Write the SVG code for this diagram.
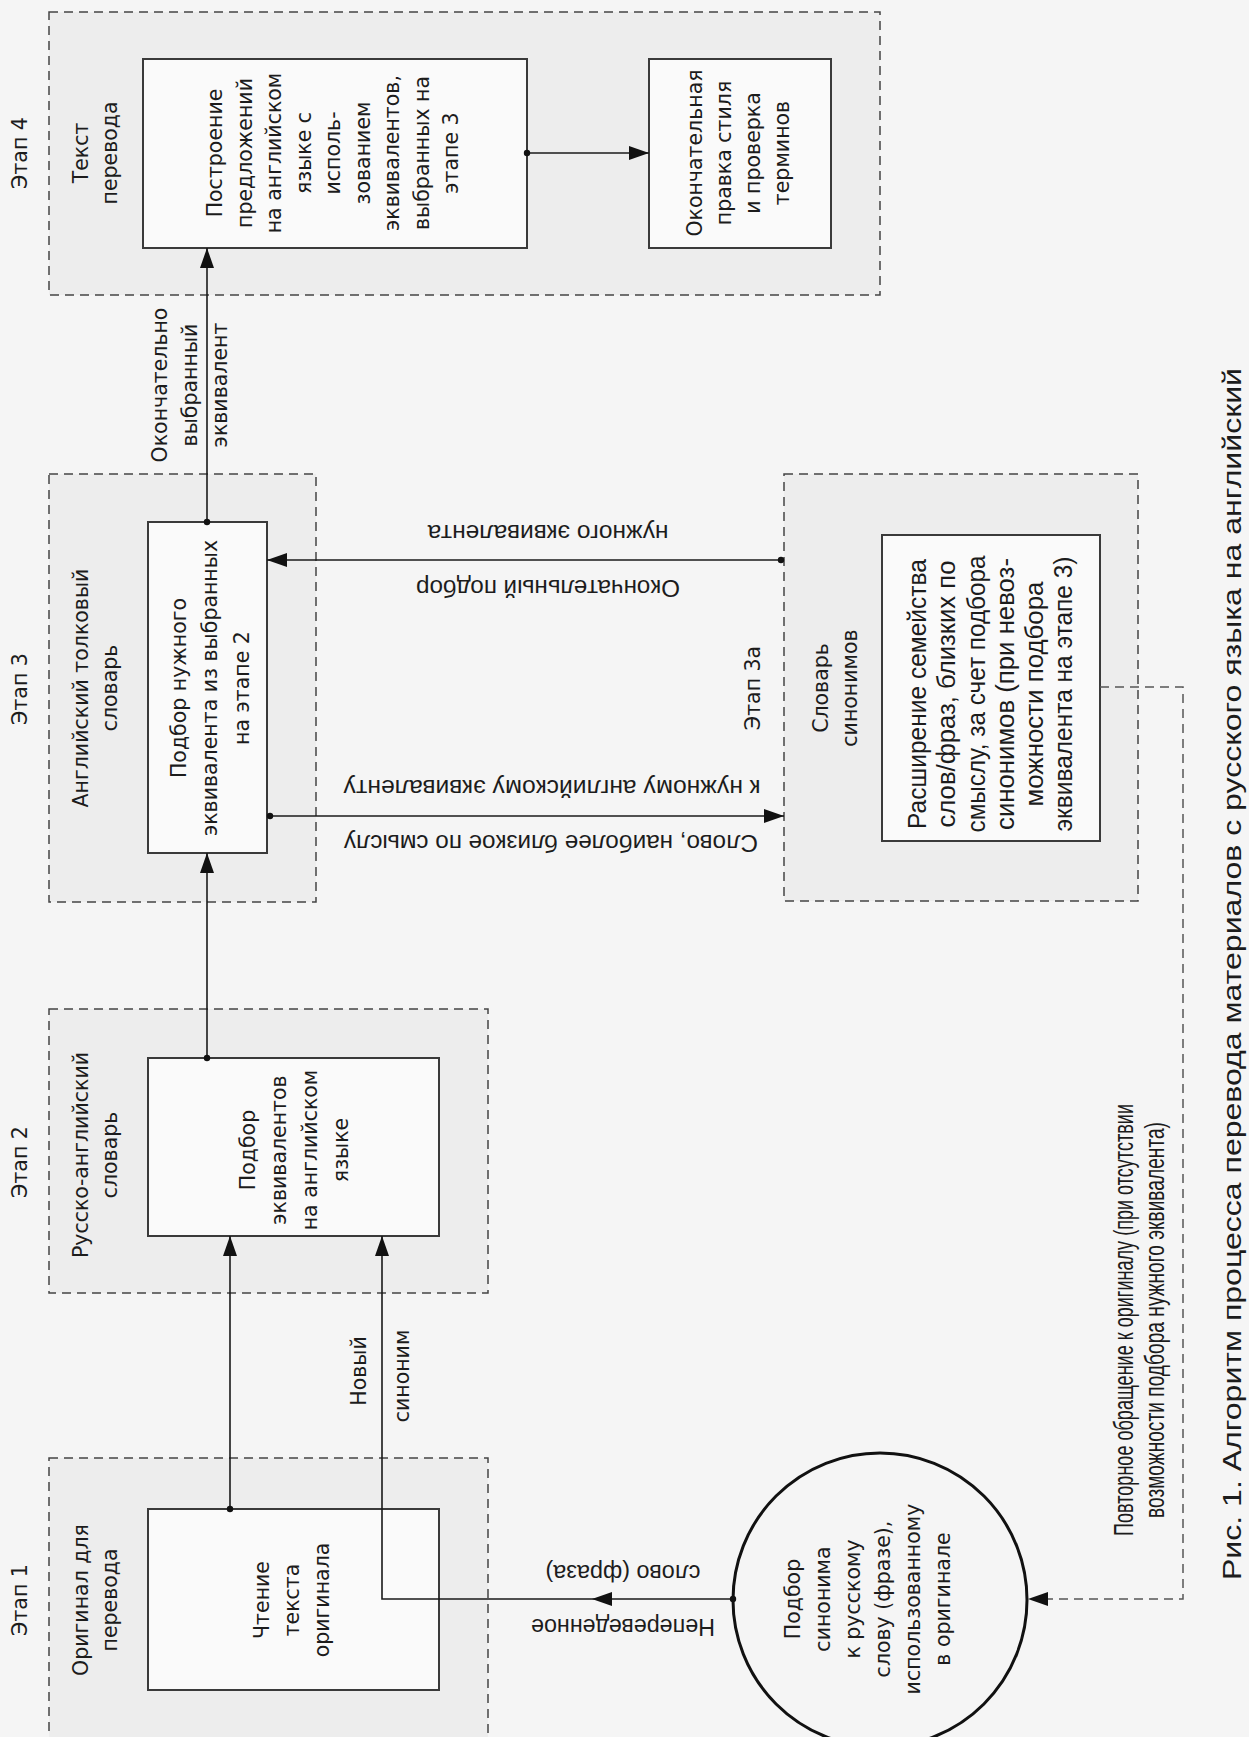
<svg xmlns="http://www.w3.org/2000/svg" width="1249" height="1737" viewBox="0 0 1249 1737">
<style>
text { dominant-baseline: central; text-anchor: middle; fill: #1c1c1c; }
.w { font-family: "DejaVu Sans", Verdana, sans-serif; font-size: 20.5px; }
.n { font-family: "Liberation Sans Narrow", "Liberation Sans", Arial, sans-serif; font-size: 24px; }
.p { font-family: "Liberation Sans Narrow", "Liberation Sans", Arial, sans-serif; font-size: 27px; }
.r { font-family: "Liberation Sans Narrow", "Liberation Sans", Arial, sans-serif; font-size: 25px; }
.cap { font-family: "Liberation Sans Narrow", "Liberation Sans", Arial, sans-serif; font-size: 25px; }
.stage { fill: #ededed; stroke: #444; stroke-width: 1.5; stroke-dasharray: 9 6; }
.box { fill: #fafafa; stroke: #3a3a3a; stroke-width: 2; }
.conn { fill: none; stroke: #1a1a1a; stroke-width: 1.6; }
.dash { fill: none; stroke: #555; stroke-width: 1.5; stroke-dasharray: 9 6; }
</style>
<defs>
<marker id="arr" markerUnits="userSpaceOnUse" markerWidth="20" markerHeight="14" refX="20" refY="7" orient="auto">
<path d="M0,0 L20,7 L0,14 z" fill="#111"/>
</marker>
<marker id="dot" markerUnits="userSpaceOnUse" markerWidth="8" markerHeight="8" refX="4" refY="4">
<circle cx="4" cy="4" r="3.2" fill="#111"/>
</marker>
</defs>
<rect x="0" y="0" width="1249" height="1737" fill="#f5f5f5"/>

<g id="stages">
<g id="stage4"><rect class="stage" x="49" y="12" width="831" height="283"/>
<g transform="translate(20,153) rotate(-90)"><text class="w">Этап 4</text></g>
<g transform="translate(95,153) rotate(-90)"><text class="w" y="-14.5">Текст</text><text class="w" y="14.5">перевода</text></g>
</g>
<g id="stage3"><rect class="stage" x="49" y="474" width="267" height="428"/>
<g transform="translate(20,689) rotate(-90)"><text class="w">Этап 3</text></g>
<g transform="translate(95,688) rotate(-90)"><text class="w" y="-14.5">Английский толковый</text><text class="w" y="14.5">словарь</text></g>
</g>
<g id="stage3a"><rect class="stage" x="784" y="474" width="354" height="427"/>
<g transform="translate(753,688) rotate(-90)"><text class="w">Этап 3а</text></g>
<g transform="translate(835,688) rotate(-90)"><text class="w" y="-14.5">Словарь</text><text class="w" y="14.5">синонимов</text></g>
</g>
<g id="stage2"><rect class="stage" x="49" y="1009" width="439" height="284"/>
<g transform="translate(20,1162) rotate(-90)"><text class="w">Этап 2</text></g>
<g transform="translate(95,1155) rotate(-90)"><text class="w" y="-14.5">Русско-английский</text><text class="w" y="14.5">словарь</text></g>
</g>
<g id="stage1"><rect class="stage" x="49" y="1458" width="439" height="320"/>
<g transform="translate(20,1600) rotate(-90)"><text class="w">Этап 1</text></g>
<g transform="translate(95,1600) rotate(-90)"><text class="w" y="-14.5">Оригинал для</text><text class="w" y="14.5">перевода</text></g>
</g>
</g>

<g id="nodeA">
<rect class="box" x="143" y="59" width="384" height="189"/>
<g transform="translate(333,153) rotate(-90)">
<text class="w" y="-118">Построение</text>
<text class="w" y="-88.5">предложений</text>
<text class="w" y="-59">на английском</text>
<text class="w" y="-29.5">языке с</text>
<text class="w" y="0">исполь-</text>
<text class="w" y="29.5">зованием</text>
<text class="w" y="59">эквивалентов,</text>
<text class="w" y="88.5">выбранных на</text>
<text class="w" y="118">этапе 3</text>
</g>
</g>
<g id="nodeB">
<rect class="box" x="649" y="59" width="182" height="189"/>
<g transform="translate(738,153) rotate(-90)">
<text class="w" y="-43.5">Окончательная</text>
<text class="w" y="-14.5">правка стиля</text>
<text class="w" y="14.5">и проверка</text>
<text class="w" y="43.5">терминов</text>
</g>
</g>
<g id="nodeA3">
<rect class="box" x="148" y="522" width="119" height="331"/>
<g transform="translate(210,688) rotate(-90)">
<text class="w" y="-31.5">Подбор нужного</text>
<text class="w" y="0">эквивалента из выбранных</text>
<text class="w" y="31.5">на этапе 2</text>
</g>
</g>
<g id="nodeSyn">
<rect class="box" x="882" y="535" width="218" height="306"/>
<g transform="translate(990,694) rotate(-90)">
<text class="r" y="-73" textLength="270" lengthAdjust="spacingAndGlyphs">Расширение семейства</text>
<text class="r" y="-44" textLength="267" lengthAdjust="spacingAndGlyphs">слов/фраз, близких по</text>
<text class="r" y="-14.5" textLength="277" lengthAdjust="spacingAndGlyphs">смыслу, за счет подбора</text>
<text class="r" y="14.5" textLength="272" lengthAdjust="spacingAndGlyphs">синонимов (при невоз-</text>
<text class="r" y="44" textLength="225" lengthAdjust="spacingAndGlyphs">можности подбора</text>
<text class="r" y="73" textLength="275" lengthAdjust="spacingAndGlyphs">эквивалента на этапе 3)</text>
</g>
</g>
<g id="nodeA2">
<rect class="box" x="148" y="1058" width="291" height="178"/>
<g transform="translate(294,1150) rotate(-90)">
<text class="w" y="-46.5">Подбор</text>
<text class="w" y="-15.5">эквивалентов</text>
<text class="w" y="15.5">на английском</text>
<text class="w" y="46.5">языке</text>
</g>
</g>
<g id="nodeA1">
<rect class="box" x="148" y="1509" width="291" height="181"/>
<g transform="translate(292,1600) rotate(-90)">
<text class="w" y="-30">Чтение</text>
<text class="w" y="0">текста</text>
<text class="w" y="30">оригинала</text>
</g>
</g>
<g id="nodeCircle">
<circle cx="880" cy="1600" r="147" fill="none" stroke="#111" stroke-width="3"/>
<g transform="translate(868,1599) rotate(-90)">
<text class="w" y="-75">Подбор</text>
<text class="w" y="-45">синонима</text>
<text class="w" y="-15">к русскому</text>
<text class="w" y="15">слову (фразе),</text>
<text class="w" y="45">использованному</text>
<text class="w" y="75">в оригинале</text>
</g>
</g>

<g id="connectors">
<line class="conn" x1="527" y1="153" x2="649" y2="153" marker-start="url(#dot)" marker-end="url(#arr)"/>
<line class="conn" x1="207" y1="522" x2="207" y2="248" marker-start="url(#dot)" marker-end="url(#arr)"/>
<line class="conn" x1="207" y1="1058" x2="207" y2="853" marker-start="url(#dot)" marker-end="url(#arr)"/>
<line class="conn" x1="230" y1="1509" x2="230" y2="1236" marker-start="url(#dot)" marker-end="url(#arr)"/>
<path class="conn" d="M733,1599 H382 V1236" marker-start="url(#dot)" marker-end="url(#arr)"/>
<path d="M592,1599 L612,1592 L612,1606 z" fill="#111"/>
<line class="conn" x1="270" y1="816" x2="784" y2="816" marker-start="url(#dot)" marker-end="url(#arr)"/>
<line class="conn" x1="781" y1="560" x2="267" y2="560" marker-start="url(#dot)" marker-end="url(#arr)"/>
<path class="dash" d="M1100,687 H1183 V1599 H1048"/>
<path d="M1028,1599 L1048,1592 L1048,1606 z" fill="#111"/>
<g transform="translate(190,385) rotate(-90)"><text class="w" y="-30">Окончательно</text><text class="w" y="0">выбранный</text><text class="w" y="30">эквивалент</text></g>
<g transform="translate(548,533) rotate(180)"><text class="n" textLength="241" lengthAdjust="spacingAndGlyphs">нужного эквивалента</text></g>
<g transform="translate(548,588) rotate(180)"><text class="n" textLength="264" lengthAdjust="spacingAndGlyphs">Окончательный подбор</text></g>
<g transform="translate(552,788) rotate(180)"><text class="n" textLength="417" lengthAdjust="spacingAndGlyphs">к нужному английскому эквиваленту</text></g>
<g transform="translate(551,843) rotate(180)"><text class="n" textLength="414" lengthAdjust="spacingAndGlyphs">Слово, наиболее близкое по смыслу</text></g>
<g transform="translate(623,1573) rotate(180)"><text class="n" textLength="155" lengthAdjust="spacingAndGlyphs">слово (фраза)</text></g>
<g transform="translate(623,1627) rotate(180)"><text class="n" textLength="184" lengthAdjust="spacingAndGlyphs">Непереведенное</text></g>
<g transform="translate(359,1371) rotate(-90)"><text class="w">Новый</text></g>
<g transform="translate(402,1376) rotate(-90)"><text class="w">синоним</text></g>
<g transform="translate(1124,1320) rotate(-90)"><text class="p" textLength="432" lengthAdjust="spacingAndGlyphs">Повторное обращение к оригиналу (при отсутствии</text></g>
<g transform="translate(1155,1320) rotate(-90)"><text class="p" textLength="396" lengthAdjust="spacingAndGlyphs">возможности подбора нужного эквивалента)</text></g>
</g>

<g id="caption">
<g transform="translate(1232,974) rotate(-90)"><text class="cap" textLength="1212" lengthAdjust="spacingAndGlyphs">Рис. 1. Алгоритм процесса перевода материалов с русского языка на английский</text></g>
</g>
</svg>
